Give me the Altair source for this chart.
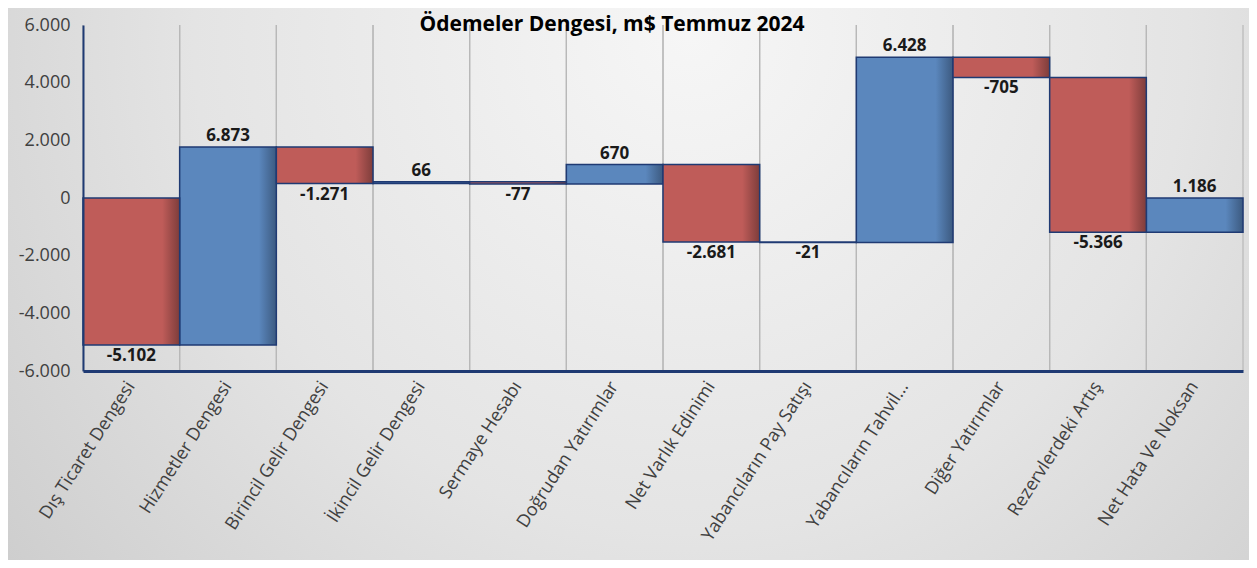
import altair as alt
import pandas as pd

title_text = "Ödemeler Dengesi, m$ Temmuz 2024"
categories = [
    "Dış Ticaret Dengesi", "Hizmetler Dengesi", "Birincil Gelir Dengesi",
    "İkincil Gelir Dengesi", "Sermaye Hesabı", "Doğrudan Yatırımlar",
    "Net Varlık Edinimi", "Yabancıların Pay Satışı", "Yabancıların Tahvil...",
    "Diğer Yatırımlar", "Rezervlerdeki Artış", "Net Hata Ve Noksan",
]
values = [-5102, 6873, -1271, 66, -77, 670, -2681, -21, 6428, -705, -5366, 1186]
y_ticks = [-6000, -4000, -2000, 0, 2000, 4000, 6000]

starts, ends = [], []
run = 0
for v in values:
    starts.append(run)
    run += v
    ends.append(run)

df = pd.DataFrame({
    "cat": categories,
    "value": values,
    "start": starts,
    "end": ends,
})
df["top"] = df[["start", "end"]].max(axis=1)
df["bottom"] = df[["start", "end"]].min(axis=1)
df["label"] = [f"{v:,}".replace(",", ".") for v in values]

W, H = 1160, 346
PAD_L, PAD_T, PAD_R, PAD_B = 75, 17, 6, 189

NAVY = "#1F3A73"

blue_grad = alt.LinearGradient(
    gradient="linear", x1=0, x2=1, y1=0, y2=0,
    stops=[alt.GradientStop(color="#5B87BD", offset=0),
           alt.GradientStop(color="#5B87BD", offset=0.82),
           alt.GradientStop(color="#3C5A80", offset=1)])
red_grad = alt.LinearGradient(
    gradient="linear", x1=0, x2=1, y1=0, y2=0,
    stops=[alt.GradientStop(color="#BF5C59", offset=0),
           alt.GradientStop(color="#BF5C59", offset=0.82),
           alt.GradientStop(color="#7E3D3B", offset=1)])
bg_grad = alt.RadialGradient(
    gradient="radial", x1=0.55, y1=0.3, r1=0, x2=0.55, y2=0.3, r2=0.8,
    stops=[alt.GradientStop(color="#F6F6F6", offset=0),
           alt.GradientStop(color="#E4E4E4", offset=0.5),
           alt.GradientStop(color="#C6C6C6", offset=1)])

x_enc = alt.X(
    "cat:N", sort=categories, title=None,
    scale=alt.Scale(paddingInner=0, paddingOuter=0),
    axis=alt.Axis(labelAngle=-57, labelFontSize=18, labelColor="#404040",
                  labelPadding=12, ticks=False, grid=False, domainColor=NAVY,
                  domainWidth=3, labelLimit=300, zindex=1),
)
y_scale = alt.Scale(domain=[-6000, 6000], nice=False)
y_axis = alt.Axis(values=y_ticks, labelFontSize=18, labelColor="#404040",
                  labelPadding=13, ticks=False, grid=False, domainColor=NAVY,
                  domainWidth=2, zindex=1,
                  labelExpr="datum.value == 0 ? '0' : (datum.value < 0 ? '-' : '') + format(abs(datum.value) / 1000, '.3f')")

bg = alt.Chart(pd.DataFrame({"a": [0]})).mark_rect(fill=bg_grad, clip=False).encode(
    x=alt.value(-PAD_L), x2=alt.value(W + PAD_R),
    y=alt.value(-PAD_T), y2=alt.value(H + PAD_B),
)

title = alt.Chart(pd.DataFrame({"t": [title_text]})).mark_text(
    fontSize=21, fontWeight="bold", color="#000000", align="center",
    baseline="alphabetic", clip=False).encode(
    x=alt.value(529), y=alt.value(6), text="t:N")

base = alt.Chart(df)

grid_l = base.mark_rule(color="#B8B8B8", strokeWidth=1.2).encode(
    x=alt.X("cat:N", sort=categories, bandPosition=0, title=None))
grid_r = base.mark_rule(color="#B8B8B8", strokeWidth=1.2).encode(
    x=alt.X("cat:N", sort=categories, bandPosition=1, title=None))

bars_pos = base.transform_filter("datum.value >= 0").mark_bar(
    fill=blue_grad, stroke=NAVY, strokeWidth=1.5).encode(
    x=x_enc,
    y=alt.Y("start:Q", scale=y_scale, axis=y_axis, title=None),
    y2="end:Q",
)
bars_neg = base.transform_filter("datum.value < 0").mark_bar(
    fill=red_grad, stroke=NAVY, strokeWidth=1.5).encode(
    x=x_enc,
    y=alt.Y("start:Q", scale=y_scale, axis=y_axis, title=None),
    y2="end:Q",
)

lab_pos = base.transform_filter("datum.value >= 0").mark_text(
    fontSize=17, fontWeight="bold", color="#1A1A1A", baseline="bottom", dy=-2).encode(
    x=alt.X("cat:N", sort=categories), y=alt.Y("top:Q"), text="label:N")
lab_neg = base.transform_filter("datum.value < 0").mark_text(
    fontSize=17, fontWeight="bold", color="#1A1A1A", baseline="top", dy=3).encode(
    x=alt.X("cat:N", sort=categories), y=alt.Y("bottom:Q"), text="label:N")

chart = alt.layer(bg, grid_l, grid_r, bars_pos, bars_neg, lab_pos, lab_neg, title).properties(
    width=W, height=H,
    autosize=alt.AutoSizeParams(type="none"),
    padding={"left": PAD_L, "top": PAD_T, "right": PAD_R, "bottom": PAD_B},
).configure(font="Open Sans", background="#FFFFFF").configure_view(stroke=None)

chart.save("out.html", embed_options={"renderer": "svg", "actions": False})
